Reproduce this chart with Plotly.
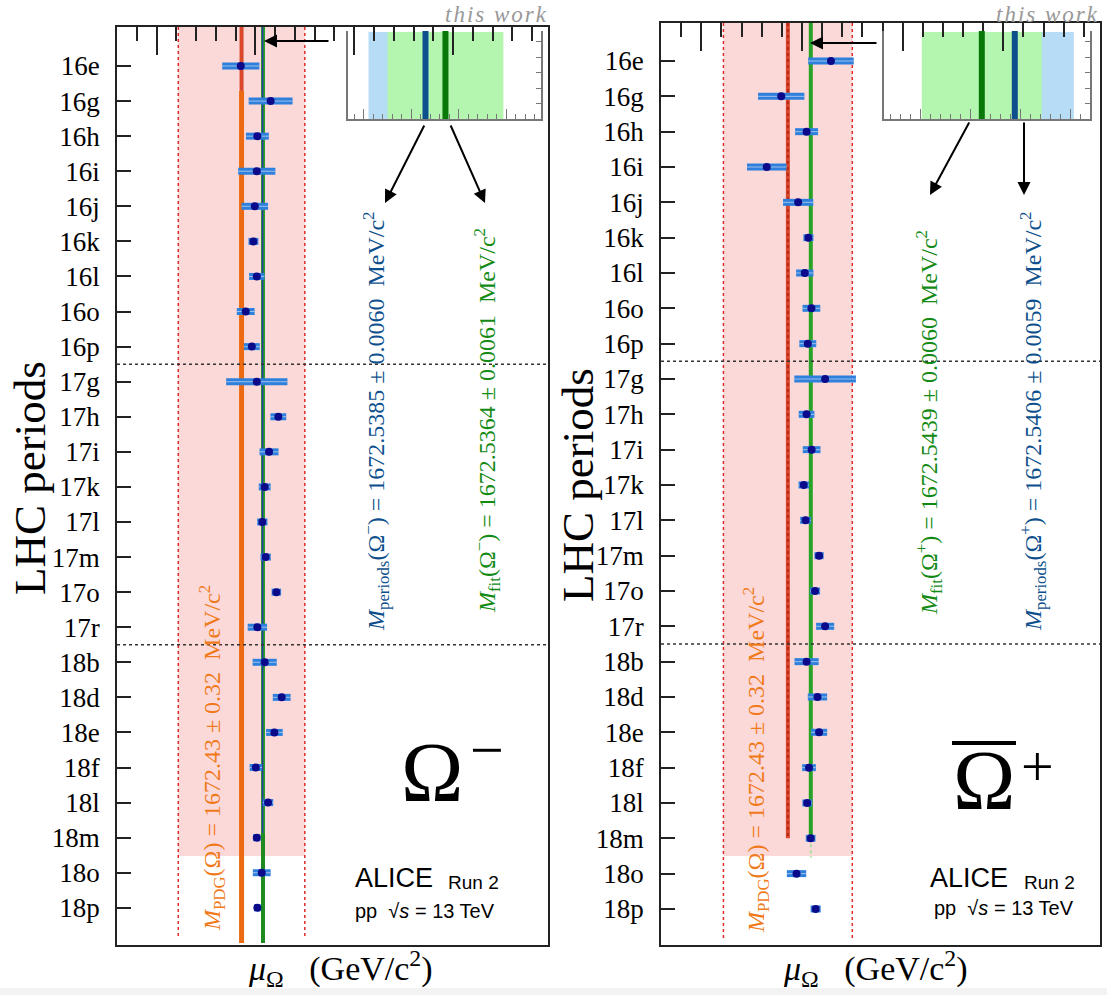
import plotly.graph_objects as go

W, H = 1107, 995
def px(x): return x / W
def py(y): return 1 - y / H

# ---------------- data ----------------
periods = ["16e", "16g", "16h", "16i", "16j", "16k", "16l", "16o", "16p",
           "17g", "17h", "17i", "17k", "17l", "17m", "17o", "17r",
           "18b", "18d", "18e", "18f", "18l", "18m", "18o", "18p"]

omega_minus_mu = [1672.426, 1672.577, 1672.510, 1672.507, 1672.497, 1672.490, 1672.507, 1672.451, 1672.482,
                  1672.507, 1672.616, 1672.569, 1672.547, 1672.535, 1672.552, 1672.606, 1672.510,
                  1672.547, 1672.633, 1672.596, 1672.502, 1672.564, 1672.507, 1672.532, 1672.510]
omega_minus_err = [0.094, 0.111, 0.058, 0.094, 0.067, 0.025, 0.039, 0.045, 0.040,
                   0.155, 0.040, 0.048, 0.030, 0.026, 0.026, 0.024, 0.049,
                   0.061, 0.045, 0.042, 0.031, 0.026, 0.019, 0.045, 0.017]

omega_plus_mu = [1672.644, 1672.397, 1672.523, 1672.325, 1672.481, 1672.532, 1672.514, 1672.547, 1672.529,
                 1672.615, 1672.523, 1672.548, 1672.509, 1672.518, 1672.585, 1672.565, 1672.615,
                 1672.523, 1672.577, 1672.585, 1672.535, 1672.526, 1672.543, 1672.473, 1672.568]
omega_plus_err = [0.113, 0.115, 0.057, 0.098, 0.075, 0.025, 0.043, 0.044, 0.042,
                  0.153, 0.039, 0.044, 0.026, 0.027, 0.023, 0.025, 0.045,
                  0.060, 0.048, 0.040, 0.034, 0.024, 0.024, 0.048, 0.025]

pdg_mass, pdg_err = 1672.43, 0.32
fit_minus, fit_minus_err = 1672.5364, 0.0061
per_minus, per_minus_err = 1672.5385, 0.0060
fit_plus, fit_plus_err = 1672.5439, 0.0060
per_plus, per_plus_err = 1672.5406, 0.0059

y_idx = list(range(len(periods)))

# ---------------- colours / fonts ----------------
SERIF = "Liberation Serif"
SANS = "Liberation Sans"
C_ORANGE = "#ec6a12"
C_PDGDOT = "#d9482a"
C_GREEN = "#27a327"
C_DKGREEN = "#087808"
C_BLUE = "#0d4f8c"
C_PINK = "#fcd9d9"
C_BAR = "#2f80dc"

fig = go.Figure()

def add_points(mu, err, xa, ya):
    fig.add_trace(go.Scatter(x=mu, y=y_idx, xaxis=xa, yaxis=ya, mode="markers",
                             marker=dict(size=1, color="rgba(0,0,0,0)"),
                             error_x=dict(type="data", array=err, visible=True, thickness=7,
                                          width=0, color=C_BAR),
                             showlegend=False, hoverinfo="skip"))
    fig.add_trace(go.Scatter(x=mu, y=y_idx, xaxis=xa, yaxis=ya, mode="markers",
                             marker=dict(size=1, color="rgba(0,0,0,0)"),
                             error_x=dict(type="data", array=err, visible=True, thickness=1,
                                          width=0, color="rgba(170,200,235,0.9)"),
                             showlegend=False, hoverinfo="skip"))
    fig.add_trace(go.Scatter(x=mu, y=y_idx, xaxis=xa, yaxis=ya, mode="markers",
                             marker=dict(size=8, color="#0a0a8a", symbol="circle"),
                             showlegend=False, hoverinfo="skip"))

add_points(omega_minus_mu, omega_minus_err, "x", "y")
add_points(omega_plus_mu, omega_plus_err, "x2", "y2")

# inset dummy traces so the inset axes are drawn
fig.add_trace(go.Scatter(x=[per_minus], y=[-10], xaxis="x3", yaxis="y3", mode="markers",
                         marker=dict(size=1, color="rgba(0,0,0,0)"), showlegend=False, hoverinfo="skip"))
fig.add_trace(go.Scatter(x=[per_plus], y=[-10], xaxis="x4", yaxis="y4", mode="markers",
                         marker=dict(size=1, color="rgba(0,0,0,0)"), showlegend=False, hoverinfo="skip"))

# ---------------- axes ----------------
XR = [1671.80, 1673.98]
YL = [25.06, -1.112]
YR = [25.02, -1.076]

def main_x(domain, anchor):
    return dict(domain=domain, range=XR, anchor=anchor, side="top",
                showline=True, mirror=True, linecolor="#222", linewidth=1.5,
                ticks="inside", ticklen=28, tickwidth=1.5, tickcolor="#222",
                tick0=1672.0, dtick=0.5, showticklabels=False,
                minor=dict(ticks="inside", ticklen=14, tick0=1672.0, dtick=0.1,
                           tickwidth=1.5, tickcolor="#222"),
                showgrid=False, zeroline=False, fixedrange=True)

def main_y(domain, anchor, rng):
    return dict(domain=domain, range=rng, anchor=anchor,
                tickmode="array", tickvals=y_idx, ticktext=periods,
                showline=True, mirror=True, linecolor="#222", linewidth=1.5,
                ticks="inside", ticklen=14, tickwidth=1.5, tickcolor="#222",
                ticklabelstandoff=10,
                tickfont=dict(family=SERIF, size=27, color="black"),
                showgrid=False, zeroline=False, fixedrange=True)

LX0, LX1, LY0, LY1 = 117, 548, 27, 945
RX0, RX1, RY0, RY1 = 661, 1100, 23, 945

fig.update_layout(
    xaxis=main_x([px(LX0), px(LX1)], "y"),
    yaxis=main_y([py(LY1), py(LY0)], "x", YL),
    xaxis2=main_x([px(RX0), px(RX1)], "y2"),
    yaxis2=main_y([py(RY1), py(RY0)], "x2", YR),
)

# insets (mass axis drawn reversed, as in the reference)
def inset_x(domain, anchor, rng):
    return dict(domain=domain, range=rng, anchor=anchor,
                showline=True, linecolor="#777", linewidth=1.5,
                ticks="inside", ticklen=10, tickcolor="#777", tickwidth=1,
                tick0=1672.53, dtick=0.005, showticklabels=False,
                minor=dict(ticks="inside", ticklen=5, tick0=1672.53, dtick=0.001,
                           tickcolor="#777", tickwidth=1),
                showgrid=False, zeroline=False, fixedrange=True)

def inset_y(domain, anchor):
    return dict(domain=domain, range=[0, 5.68], anchor=anchor, side="right",
                showline=True, mirror=True, linecolor="#777", linewidth=1.5,
                ticks="inside", ticklen=5, tickcolor="#777",
                tickmode="array", tickvals=[1, 2, 3, 4, 5], showticklabels=False,
                showgrid=False, zeroline=False, fixedrange=True)

fig.update_layout(
    xaxis3=inset_x([px(348), px(541)], "y3", [1672.54666, 1672.52634]),
    yaxis3=inset_y([py(119), py(31)], "x3"),
    xaxis4=inset_x([px(884), px(1090)], "y4", [1672.55368, 1672.53308]),
    yaxis4=inset_y([py(119), py(31)], "x4"),
)

shapes = []

def vline(xv, y0, y1, xr, yr, color, width, dash="solid", layer="below"):
    shapes.append(dict(type="line", xref=xr, yref=yr, x0=xv, x1=xv, y0=y0, y1=y1,
                       line=dict(color=color, width=width, dash=dash), layer=layer))

# ---- left main panel ----
shapes.append(dict(type="rect", xref="x", yref="y", x0=pdg_mass - pdg_err, x1=pdg_mass + pdg_err,
                   y0=YL[1], y1=22.52, fillcolor=C_PINK, line=dict(width=0), layer="below"))
vline(pdg_mass - pdg_err, YL[1], 24.86, "x", "y", "#e02a2a", 1.5, "dot")
vline(pdg_mass + pdg_err, YL[1], 24.86, "x", "y", "#e02a2a", 1.5, "dot")
vline(pdg_mass, 0.71, 25.0, "x", "y", C_ORANGE, 5)
vline(pdg_mass, YL[1], 0.71, "x", "y", C_PDGDOT, 4)
vline(per_minus, YL[1], 25.0, "x", "y", C_GREEN, 4)
vline(per_minus, 21.87, 25.0, "x", "y", "#1f8a1f", 4)
vline(fit_minus, YL[1], 21.87, "x", "y", "#2a3aa0", 1.5)

# ---- right main panel ----
shapes.append(dict(type="rect", xref="x2", yref="y2", x0=pdg_mass - pdg_err, x1=pdg_mass + pdg_err,
                   y0=YR[1], y1=22.5, fillcolor=C_PINK, line=dict(width=0), layer="below"))
vline(pdg_mass - pdg_err, YR[1], 24.9, "x2", "y2", "#e02a2a", 1.5, "dot")
vline(pdg_mass + pdg_err, YR[1], 24.9, "x2", "y2", "#e02a2a", 1.5, "dot")
vline(pdg_mass, YR[1], 22.0, "x2", "y2", C_PDGDOT, 4)
vline(pdg_mass, YR[1], 22.0, "x2", "y2", "#b52a18", 2, "dot")
vline(fit_plus, YR[1], 22.0, "x2", "y2", C_GREEN, 4)
vline(fit_plus, 22.0, 22.55, "x2", "y2", "#8ee08e", 1.5, "dot")

# separators between years
for xr_, yr_ in (("x domain", "y"), ("x2 domain", "y2")):
    for yv in (8.5, 16.5):
        shapes.append(dict(type="line", xref=xr_, yref=yr_, x0=0, x1=1, y0=yv, y1=yv,
                           line=dict(color="#333", width=1.5, dash="dot"), layer="above"))

# ---- insets ----
for xr_, yr_, pm, pe, fm, fe in (("x3", "y3 domain", per_minus, per_minus_err, fit_minus, fit_minus_err),
                                 ("x4", "y4 domain", per_plus, per_plus_err, fit_plus, fit_plus_err)):
    shapes.append(dict(type="rect", xref=xr_, yref=yr_, x0=pm - pe, x1=pm + pe, y0=0, y1=0.99,
                       fillcolor="#b6dcf6", line=dict(width=0), layer="below"))
    shapes.append(dict(type="rect", xref=xr_, yref=yr_, x0=fm - fe, x1=fm + fe, y0=0, y1=0.99,
                       fillcolor="#b4f5b0", line=dict(width=0), layer="below"))
    vline(pm, 0, 1.0, xr_, yr_, C_BLUE, 6, layer="above")
    vline(fm, 0, 1.0, xr_, yr_, C_DKGREEN, 6, layer="above")

# overline of anti-Omega
shapes.append(dict(type="line", xref="paper", yref="paper", x0=px(952), x1=px(1016),
                   y0=py(743), y1=py(743), line=dict(color="black", width=4)))

# light strip at the bottom of the reference screenshot
shapes.append(dict(type="rect", xref="paper", yref="paper", x0=0, x1=1, y0=0, y1=py(988),
                   fillcolor="#f3f3f3", line=dict(width=0), layer="below"))

fig.update_layout(shapes=shapes)

# ---------------- annotations ----------------
ann = []

def text(x, y, t, size, color="black", family=SERIF, angle=0, xanchor="center", yanchor="middle"):
    ann.append(dict(x=px(x), y=py(y), xref="paper", yref="paper", text=t, showarrow=False,
                    textangle=angle, xanchor=xanchor, yanchor=yanchor,
                    font=dict(family=family, size=size, color=color)))

def arrow(xt, yt, xtail, ytail):
    ann.append(dict(x=px(xt), y=py(yt), xref="paper", yref="paper", text="", showarrow=True,
                    ax=xtail - xt, ay=ytail - yt, arrowhead=2, arrowsize=1.3, arrowwidth=2,
                    arrowcolor="black", standoff=0))

NB = "&nbsp;"
# axis titles
text(30, 478, "LHC" + NB + "periods", 45, angle=-90)
text(578, 485, "LHC" + NB + "periods", 45, angle=-90)
xt = "<i>μ</i><sub>Ω</sub>" + NB * 3 + "(GeV/c<sup>2</sup>)"
text(340, 968, xt, 34)
text(875, 968, xt, 34)

# this work
tw = "<i><span style='letter-spacing:2px'>this" + NB + "work</span></i>"
text(443, 0, tw, 23, color="#999999", xanchor="left", yanchor="top")
text(1101, 0, tw, 23, color="#999999", xanchor="right", yanchor="top")

# rotated value labels
def mlabel(sub, part, val, err):
    return ("<i>M</i><sub>%s</sub>(Ω<sup>%s</sup>) = %.4f ± %.4f" % (sub, part, val, err)
            + NB * 2 + "MeV/c<sup>2</sup>")

pdg_txt = ("<i>M</i><sub>PDG</sub>(Ω) = %.2f ± %.2f" % (pdg_mass, pdg_err) + NB * 2 + "MeV/c<sup>2</sup>")

text(376, 422, mlabel("periods", "−", per_minus, per_minus_err), 24, color=C_BLUE, angle=-90)
text(487, 421, mlabel("fit", "−", fit_minus, fit_minus_err), 24, color="#138a13", angle=-90)
text(212, 758, pdg_txt, 24, color="#f07a1a", angle=-90)

text(929, 423, mlabel("fit", "+", fit_plus, fit_plus_err), 24, color="#138a13", angle=-90)
text(1033, 422, mlabel("periods", "+", per_plus, per_plus_err), 24, color=C_BLUE, angle=-90)
text(756, 760, pdg_txt, 24, color="#f07a1a", angle=-90)

# particle labels
text(432, 772, "Ω", 84)
text(487, 750, "−", 60)
text(984, 780, "Ω", 84)
text(1037, 766, "+", 58)

# ALICE labels
text(353, 878, "ALICE", 27, family=SANS, xanchor="left")
text(446, 882, "Run 2", 19, family=SANS, xanchor="left")
text(353, 911, "pp" + NB * 2 + "√<i>s</i> = 13 TeV", 20, family=SANS, xanchor="left")
text(928, 878, "ALICE", 27, family=SANS, xanchor="left")
text(1022, 882, "Run 2", 19, family=SANS, xanchor="left")
text(932, 908, "pp" + NB * 2 + "√<i>s</i> = 13 TeV", 20, family=SANS, xanchor="left")

# arrows
arrow(264, 41, 330, 41)
arrow(385, 203, 425, 124)
arrow(485, 203, 450, 124)
arrow(810, 43, 878, 43)
arrow(930, 195, 970, 121)
arrow(1024, 195, 1024, 121)

fig.update_layout(annotations=ann)

fig.update_layout(width=W, height=H, margin=dict(l=0, r=0, t=0, b=0),
                  paper_bgcolor="white", plot_bgcolor="rgba(0,0,0,0)", showlegend=False)

fig.write_html("out.html")
